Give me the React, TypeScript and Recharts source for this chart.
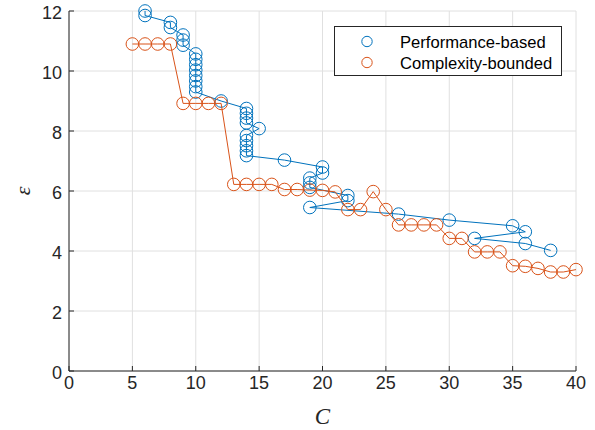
import React from 'react';
import { ScatterChart, Scatter, XAxis, YAxis, CartesianGrid, Legend } from 'recharts';

const perfC = [6, 6, 8, 8, 9, 9, 9, 10, 10, 10, 10, 10, 10, 10, 10, 12, 14, 14, 14, 14, 15, 14, 14, 14, 14, 14, 17, 20, 20, 19, 19, 19, 22, 22, 19, 26, 30, 35, 36, 32, 36, 38];
const perfEps = [12.0, 11.85, 11.62, 11.45, 11.2, 11.03, 10.86, 10.57, 10.39, 10.21, 10.03, 9.85, 9.67, 9.48, 9.3, 9.0, 8.75, 8.59, 8.43, 8.27, 8.08, 7.85, 7.68, 7.51, 7.34, 7.18, 7.03, 6.8, 6.6, 6.43, 6.27, 6.12, 5.85, 5.68, 5.45, 5.23, 5.03, 4.84, 4.64, 4.42, 4.25, 4.02];

const compC = [5, 6, 7, 8, 9, 10, 11, 12, 13, 14, 15, 16, 17, 18, 19, 20, 21, 22, 23, 24, 25, 26, 27, 28, 29, 30, 31, 32, 33, 34, 35, 36, 37, 38, 39, 40];
const compEps = [10.9, 10.9, 10.9, 10.9, 8.92, 8.92, 8.92, 8.92, 6.22, 6.22, 6.22, 6.22, 6.05, 6.05, 6.03, 6.02, 5.97, 5.38, 5.38, 5.98, 5.38, 4.87, 4.87, 4.87, 4.87, 4.42, 4.42, 3.97, 3.97, 3.97, 3.51, 3.49, 3.42, 3.3, 3.3, 3.38];

const xTicks = [0, 5, 10, 15, 20, 25, 30, 35, 40];
const yTicks = [0, 2, 4, 6, 8, 10, 12];

const seriesNames = ['Performance-based', 'Complexity-bounded'];
const BLUE = '#0072BD';
const ORANGE = '#D95319';
const AXIS = '#262626';
const SANS = '"Liberation Sans", Arial, Helvetica, sans-serif';
const SERIF = '"Liberation Serif", "Times New Roman", serif';

const perfData = perfC.map((c, i) => ({ C: c, eps: perfEps[i] }));
const compData = compC.map((c, i) => ({ C: c, eps: compEps[i] }));

const XTick = (props: any) => {
  const { x, y, payload } = props;
  return (
    <g>
      <line x1={x} x2={x} y1={y} y2={y - 5} stroke={AXIS} strokeWidth={1} />
      <text x={x} y={y + 18} textAnchor="middle" fontSize={18} fill={AXIS} fontFamily={SANS}>
        {payload.value}
      </text>
    </g>
  );
};

const YTick = (props: any) => {
  const { x, y, payload } = props;
  return (
    <g>
      <line x1={x} x2={x + 5} y1={y} y2={y} stroke={AXIS} strokeWidth={1} />
      <text x={x - 7} y={y + 7.5} textAnchor="end" fontSize={18} fill={AXIS} fontFamily={SANS}>
        {payload.value}
      </text>
    </g>
  );
};

const XLabel = (props: any) => {
  const vb = props.viewBox || {};
  return (
    <text x={vb.x + vb.width / 2} y={vb.y + 53} textAnchor="middle" fontSize={23} fontStyle="italic" fontFamily={SERIF} fill={AXIS}>
      C
    </text>
  );
};

const YLabel = (props: any) => {
  const vb = props.viewBox || {};
  const cx = 22;
  const cy = vb.y + vb.height / 2;
  return (
    <text x={cx} y={cy} transform={`rotate(-90, ${cx}, ${cy})`} textAnchor="middle" dominantBaseline="central" fontSize={22} fontStyle="italic" fontFamily={SERIF} fill={AXIS}>
      ε
    </text>
  );
};

const makeShape = (color: string) => (props: any) => (
  <circle cx={props.cx} cy={props.cy} r={6.3} fill="none" stroke={color} strokeWidth={1} />
);

const LegendBox = () => {
  const colors = [BLUE, ORANGE];
  return (
    <svg width={228} height={50} style={{ display: 'block' }}>
      <rect x={0.5} y={0.5} width={227} height={49} fill="#ffffff" stroke={AXIS} strokeWidth={1} />
      {seriesNames.map((n, i) => (
        <g key={n}>
          <circle cx={33} cy={15.5 + i * 21} r={5.2} fill="none" stroke={colors[i]} strokeWidth={1} />
          <text x={66} y={15.5 + i * 21 + 6} fontSize={16.6} fontFamily={SANS} fill="#000000">
            {n}
          </text>
        </g>
      ))}
    </svg>
  );
};

export default function App() {
  return (
    <div style={{ position: 'absolute', left: 0, top: 0, width: 595, height: 430, background: '#ffffff' }}>
      <ScatterChart width={595} height={430} margin={{ top: 11, right: 19, bottom: 0, left: 0 }}>
        <CartesianGrid stroke="#e0e0e0" strokeWidth={1} />
        <XAxis
          type="number"
          dataKey="C"
          domain={[0, 40]}
          ticks={xTicks}
          interval={0}
          height={59}
          tickSize={0}
          tickMargin={0}
          tickLine={false}
          axisLine={{ stroke: AXIS, strokeWidth: 1 }}
          tick={<XTick />}
          label={<XLabel />}
        />
        <YAxis
          type="number"
          dataKey="eps"
          domain={[0, 12]}
          ticks={yTicks}
          interval={0}
          width={69}
          tickSize={0}
          tickMargin={0}
          tickLine={false}
          axisLine={{ stroke: AXIS, strokeWidth: 1 }}
          tick={<YTick />}
          label={<YLabel />}
        />
        <Legend
          layout="vertical"
          align="center"
          verticalAlign="middle"
          content={<LegendBox />}
          wrapperStyle={{ position: 'absolute', left: 334, top: 26, width: 228, height: 50 }}
        />
        <Scatter
          name={seriesNames[0]}
          data={perfData}
          fill={BLUE}
          line={{ stroke: BLUE, strokeWidth: 1 }}
          lineType="joint"
          shape={makeShape(BLUE)}
          isAnimationActive={false}
        />
        <Scatter
          name={seriesNames[1]}
          data={compData}
          fill={ORANGE}
          line={{ stroke: ORANGE, strokeWidth: 1 }}
          lineType="joint"
          shape={makeShape(ORANGE)}
          isAnimationActive={false}
        />
      </ScatterChart>
    </div>
  );
}
